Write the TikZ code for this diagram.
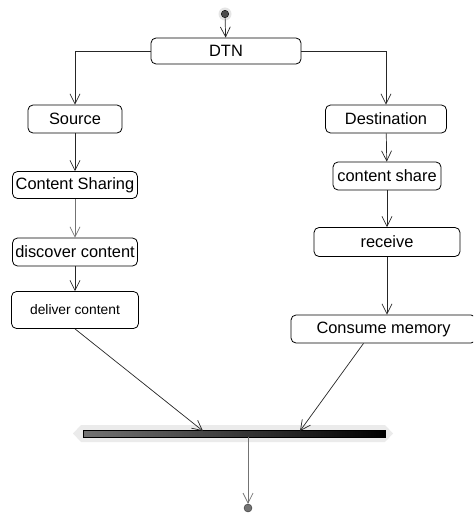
\documentclass[tikz,border=0pt]{standalone}
\usepackage{fontspec}
\setmainfont{Liberation Sans}
\usetikzlibrary{arrows.meta}
\tikzset{
state/.style={draw=black,rounded corners=5pt,line width=0.8pt,fill=white,inner sep=0pt,font=\fontsize{16.4}{18}\selectfont},
smallstate/.style={state,font=\fontsize{13.8}{16}\selectfont},
flow/.style={draw=black!85,line width=0.7pt,-{Straight Barb[length=10pt,width=10pt]}},
greyflow/.style={flow,draw=black!55},
}

\begin{document}
\begin{tikzpicture}[x=1pt,y=1pt,yscale=-1,xscale=1]
\clip (0,0) rectangle (473,513);

%Start point
\fill[black!10] (225,14) circle (6.5);
\node (start) [circle,draw=black,fill=black!70,inner sep=0pt,minimum size=7.5pt] at (225,14) {};

%States
\node (dtn) [state,minimum width=150pt,minimum height=26pt] at (226,51) {DTN};
\node (source) [state,minimum width=94pt,minimum height=28pt] at (75,119) {Source};
\node (csharing) [state,minimum width=125pt,minimum height=27pt] at (75,185) {Content Sharing};
\node (discover) [state,minimum width=125pt,minimum height=28pt] at (75,252) {discover content};
\node (deliver) [smallstate,minimum width=127pt,minimum height=37pt] at (75,310) {deliver content};
\node (dest) [state,minimum width=121pt,minimum height=28pt] at (386,119) {Destination};
\node (cshare) [state,minimum width=108pt,minimum height=28pt] at (387,176) {content share};
\node (receive) [state,minimum width=146pt,minimum height=29pt] at (387,242) {receive};
\node (consume) [state,minimum width=185pt,minimum height=28pt] at (383.5,329) {Consume memory};

%Join bar
\fill[black!8] (73,433.5) -- (81,425) -- (385,425) -- (393,433.5) -- (385,442) -- (81,442) -- cycle;
\node (bar) [draw=black,line width=0.8pt,left color=black!55,right color=black,inner sep=0pt,minimum width=302pt,minimum height=7pt] at (234,433.5) {};
\coordinate (j1) at (203,431);
\coordinate (j2) at (300,431);

%End point
\node (end) [circle,draw=black!80,fill=black!55,inner sep=0pt,minimum size=8pt] at (248,508) {};

%Transitions
\draw[flow] (start) -- (dtn);
\draw[flow] (dtn.west) -| (source);
\draw[flow] (dtn.east) -| (dest);
\draw[flow] (source) -- (csharing);
\draw[greyflow] (csharing) -- (discover);
\draw[flow] (discover) -- (deliver);
\draw[flow] (dest) -- (cshare);
\draw[flow] (cshare) -- (receive);
\draw[flow] (receive) -- (receive |- consume.north);
\draw[flow] (deliver.south) -- (j1);
\draw[flow] ([xshift=-20pt]consume.south) -- (j2);
\draw[greyflow] (bar.south -| end) -- (end);

\end{tikzpicture}
\end{document}
